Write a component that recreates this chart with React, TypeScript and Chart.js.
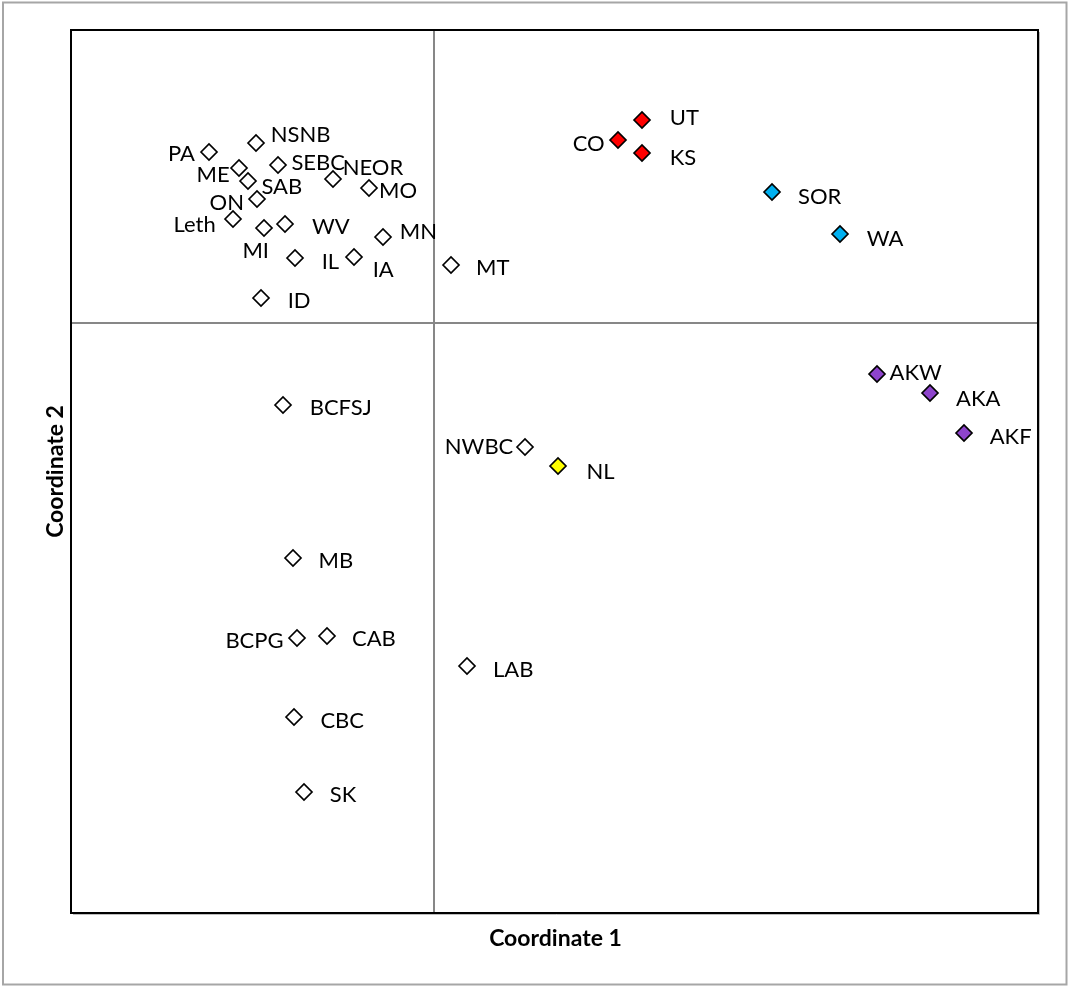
import React, { useEffect, useRef } from "react";
import { Chart, registerables } from "chart.js";

Chart.register(...registerables);

// ---- data ----
const siteLabels = [
  "PA", "NSNB", "ME", "SAB", "SEBC", "NEOR", "MO", "ON", "Leth", "MI", "WV", "MN",
  "IL", "IA", "ID", "MT", "BCFSJ", "NWBC", "MB", "BCPG", "CAB", "LAB", "CBC", "SK",
  "UT", "CO", "KS", "SOR", "WA", "AKW", "AKA", "AKF", "NL",
];
const coord1 = [
  -2.25, -1.78, -1.95, -1.86, -1.56, -1.01, -0.65, -1.77, -2.01, -1.70, -1.49, -0.51,
  -1.39, -0.80, -1.73, 0.17, -1.51, 0.91, -1.41, -1.37, -1.07, 0.33, -1.40, -1.30,
  2.08, 1.84, 2.08, 3.38, 4.06, 4.43, 4.96, 5.30, 1.24,
];
const coord2 = [
  1.71, 1.80, 1.55, 1.42, 1.58, 1.44, 1.35, 1.24, 1.04, 0.95, 0.99, 0.86,
  0.65, 0.66, 0.25, 0.58, -0.82, -1.24, -2.35, -3.15, -3.13, -3.43, -3.94, -4.69,
  2.03, 1.83, 1.70, 1.31, 0.89, -0.51, -0.70, -1.10, -1.43,
];
const clusterOf = [
  "none", "none", "none", "none", "none", "none", "none", "none", "none", "none", "none", "none",
  "none", "none", "none", "none", "none", "none", "none", "none", "none", "none", "none", "none",
  "red", "red", "red", "blue", "blue", "purple", "purple", "purple", "yellow",
];
const clusterNames = ["none", "red", "blue", "purple", "yellow"];
const axisRangeX = [-3.63, 6.04];
const axisRangeY = [-5.9, 2.93];

// ---- styles (label placement nudges, colours) ----
const clusterColors: Record<string, string> = {
  none: "#ffffff",
  red: "#ff0000",
  blue: "#00b0f0",
  purple: "#8e44cc",
  yellow: "#ffff00",
};
// [align, dx, dy] relative to the marker centre
const labelPlacement: [CanvasTextAlign, number, number][] = [
  ["right", -14, 1], // PA
  ["left", 14.7, -9.3], // NSNB
  ["right", -9.3, 5.7], // ME
  ["left", 13.4, 4.7], // SAB
  ["left", 13.4, -3.3], // SEBC
  ["left", 9.7, -12.3], // NEOR
  ["left", 10, 2.3], // MO
  ["right", -13, 3.4], // ON
  ["right", -17.3, 5], // Leth
  ["center", -8.3, 21.6], // MI
  ["left", 27, 2], // WV
  ["left", 16.7, -5.6], // MN
  ["left", 26.7, 3.4], // IL
  ["left", 18.7, 11.6], // IA
  ["left", 26.7, 1.7], // ID
  ["left", 25, 2], // MT
  ["left", 26.7, 1.7], // BCFSJ
  ["right", -11.7, -0.7], // NWBC
  ["left", 25.6, 2.3], // MB
  ["right", -13.4, 1.7], // BCPG
  ["left", 25, 2.3], // CAB
  ["left", 26, 3], // LAB
  ["left", 26.4, 2.7], // CBC
  ["left", 25.7, 1.6], // SK
  ["left", 27.7, -3.3], // UT
  ["right", -13.3, 3.3], // CO
  ["left", 27.7, 4], // KS
  ["left", 26, 4.4], // SOR
  ["left", 26.7, 4.3], // WA
  ["left", 12.6, -1.7], // AKW
  ["left", 26, 5], // AKA
  ["left", 25.7, 3.4], // AKF
  ["left", 28.4, 5], // NL
];

const LABEL_FONT = "22px Lato";
const LABEL_CAP_HALF = 7.9;
const TITLE_FONT = "bold 23px Lato";

const decorPlugin = {
  id: "decor",
  beforeDraw(chart: any) {
    const ctx = chart.ctx as CanvasRenderingContext2D;
    ctx.save();
    ctx.fillStyle = "#ffffff";
    ctx.fillRect(0, 0, chart.width, chart.height);
    ctx.strokeStyle = "#a6a6a6";
    ctx.lineWidth = 2;
    ctx.strokeRect(3, 2.5, 1063.5, 982);
    ctx.restore();
  },
  beforeDatasetsDraw(chart: any) {
    const ctx = chart.ctx as CanvasRenderingContext2D;
    const { left, right, top, bottom } = chart.chartArea;
    const x0 = chart.scales.x.getPixelForValue(0);
    const y0 = chart.scales.y.getPixelForValue(0);
    ctx.save();
    ctx.strokeStyle = "#878787";
    ctx.lineWidth = 2;
    ctx.beginPath();
    ctx.moveTo(x0, top);
    ctx.lineTo(x0, bottom);
    ctx.moveTo(left, y0);
    ctx.lineTo(right, y0);
    ctx.stroke();
    ctx.restore();
  },
  afterDatasetsDraw(chart: any) {
    const ctx = chart.ctx as CanvasRenderingContext2D;
    const { left, right, top, bottom } = chart.chartArea;
    ctx.save();
    // subtle shadow + plot border
    ctx.strokeStyle = "#bdbdbd";
    ctx.lineWidth = 1;
    ctx.beginPath();
    ctx.moveTo(right + 1.5, top + 2);
    ctx.lineTo(right + 1.5, bottom + 1.5);
    ctx.lineTo(left + 2, bottom + 1.5);
    ctx.stroke();
    ctx.strokeStyle = "#000000";
    ctx.lineWidth = 2;
    ctx.strokeRect(left, top, right - left, bottom - top);
    // data labels
    ctx.fillStyle = "#000000";
    ctx.font = LABEL_FONT;
    ctx.textBaseline = "alphabetic";
    chart.data.datasets.forEach((ds: any, di: number) => {
      const meta = chart.getDatasetMeta(di);
      meta.data.forEach((el: any, i: number) => {
        const idx = ds.data[i].idx;
        const [align, dx, dy] = labelPlacement[idx];
        ctx.textAlign = align;
        ctx.fillText(siteLabels[idx], el.x + dx, el.y + dy + LABEL_CAP_HALF);
      });
    });
    // axis titles
    ctx.font = TITLE_FONT;
    ctx.textAlign = "center";
    ctx.fillText("Coordinate 1", (left + right) / 2 + 1, 946);
    ctx.translate(63, (top + bottom) / 2);
    ctx.rotate(-Math.PI / 2);
    ctx.fillText("Coordinate 2", 0, 0);
    ctx.restore();
  },
};

export default function App() {
  const canvasRef = useRef<HTMLCanvasElement | null>(null);

  useEffect(() => {
    if (!canvasRef.current) return;
    const datasets = clusterNames.map((c) => ({
      label: c,
      data: siteLabels
        .map((_, i) => ({ x: coord1[i], y: coord2[i], idx: i }))
        .filter((p) => clusterOf[p.idx] === c),
      pointStyle: "rectRot",
      pointRadius: 8,
      pointHoverRadius: 8,
      pointBackgroundColor: clusterColors[c],
      pointBorderColor: "#000000",
      pointBorderWidth: 1.7,
      showLine: false,
    }));
    const chart = new Chart(canvasRef.current, {
      type: "scatter",
      data: { datasets: datasets as any },
      options: {
        animation: false,
        responsive: true,
        maintainAspectRatio: false,
        events: [],
        layout: { padding: { left: 71, top: 30, right: 30, bottom: 73 } },
        plugins: { legend: { display: false }, tooltip: { enabled: false } },
        scales: {
          x: { type: "linear", display: false, min: axisRangeX[0], max: axisRangeX[1] },
          y: { type: "linear", display: false, min: axisRangeY[0], max: axisRangeY[1] },
        },
      },
      plugins: [decorPlugin],
    });
    return () => chart.destroy();
  }, []);

  return (
    <div style={{ position: "absolute", left: 0, top: 0, width: 1068, height: 986 }}>
      <canvas ref={canvasRef} />
    </div>
  );
}
